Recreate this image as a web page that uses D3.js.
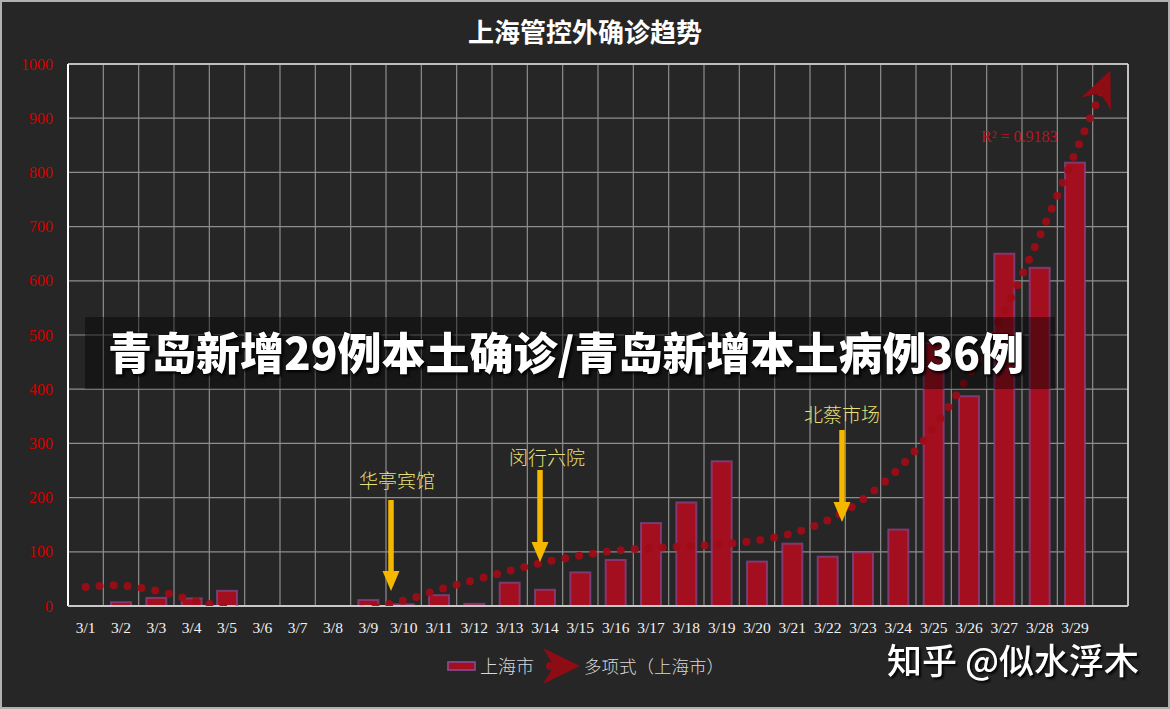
<!DOCTYPE html>
<html>
<head>
<meta charset="utf-8">
<script src="https://cdn.jsdelivr.net/npm/d3@7"></script>
<style>
  body { margin: 0; background: #262626; }
  svg { display: block; }
</style>
</head>
<body>
<div id="chart"></div>
<script>
// Data
const dates = ["3/1", "3/2", "3/3", "3/4", "3/5", "3/6", "3/7", "3/8", "3/9", "3/10",
    "3/11", "3/12", "3/13", "3/14", "3/15", "3/16", "3/17", "3/18", "3/19", "3/20",
    "3/21", "3/22", "3/23", "3/24", "3/25", "3/26", "3/27", "3/28", "3/29"];
const cases = [0, 7, 15, 14, 28, 0, 0, 0, 11, 3,
    20, 4, 43, 30, 62, 85, 153, 191, 267, 82,
    115, 91, 99, 141, 485, 387, 650, 624, 818];
// polynomial trend (one extra step past 3/29)
const trend = [35, 38, 28, 11, -3, -14, -20, -18, -4, 10,
    30, 48, 65, 81, 93, 102, 107, 110, 114, 121,
    134, 158, 197, 253, 329, 426, 544, 682, 835, 988];
const yTicks = [0, 100, 200, 300, 400, 500, 600, 700, 800, 900, 1000];
const notes = [
    { label: "华亭宾馆", tx: 397, ty: 481, from: 500, tip: 591, ax: 391 },
    { label: "闵行六院", tx: 547, ty: 458, from: 470, tip: 562, ax: 540 },
    { label: "北蔡市场", tx: 842, ty: 415, from: 430, tip: 522, ax: 842 }
];

const W = 1170, H = 709;
const pLeft = 68, pRight = 1128, pTop = 64, pBottom = 606;

const svg = d3.select("#chart").append("svg")
    .attr("width", W)
    .attr("height", H);

svg.append("rect")
    .attr("x", 1).attr("y", 1)
    .attr("width", W - 2).attr("height", H - 2)
    .attr("fill", "#262626")
    .attr("stroke", "#b0b0b0")
    .attr("stroke-width", 2);

// Scales: 30 columns, the last one left empty
const cols = dates.concat([""]);
const x = d3.scaleBand().domain(cols.map((d, i) => i)).range([pLeft, pRight]).padding(0);
const y = d3.scaleLinear().domain([0, 1000]).range([pBottom, pTop]);
const cx = i => x(i) + x.bandwidth() / 2;

// Grid
const grid = svg.append("g");
grid.selectAll(".h").data(yTicks).join("line")
    .attr("x1", pLeft).attr("x2", pRight)
    .attr("y1", d => y(d)).attr("y2", d => y(d))
    .attr("stroke", "#8e8e8e").attr("stroke-width", 1.2);
grid.selectAll(".v").data(d3.range(cols.length + 1)).join("line")
    .attr("x1", i => pLeft + i * x.bandwidth()).attr("x2", i => pLeft + i * x.bandwidth())
    .attr("y1", pTop).attr("y2", pBottom)
    .attr("stroke", "#8e8e8e").attr("stroke-width", 1.2);

// Frame
svg.append("line").attr("x1", pLeft).attr("x2", pRight).attr("y1", pTop).attr("y2", pTop)
    .attr("stroke", "#bdbdbd").attr("stroke-width", 2);
svg.append("line").attr("x1", pRight).attr("x2", pRight).attr("y1", pTop).attr("y2", pBottom)
    .attr("stroke", "#e0e0e0").attr("stroke-width", 1.5);
svg.append("line").attr("x1", pLeft).attr("x2", pLeft).attr("y1", pTop).attr("y2", pBottom)
    .attr("stroke", "#ffffff").attr("stroke-width", 2);

// Bars
const barW = 20;
svg.append("g").selectAll("rect").data(cases).join("rect")
    .attr("x", (d, i) => cx(i) - barW / 2)
    .attr("y", d => y(d))
    .attr("width", barW)
    .attr("height", d => pBottom - y(d))
    .attr("fill", "#a30f1f")
    .attr("stroke", "#87468a")
    .attr("stroke-opacity", 0.75)
    .attr("stroke-width", d => d > 0 ? 2 : 0);

svg.append("line").attr("x1", pLeft).attr("x2", pRight).attr("y1", pBottom).attr("y2", pBottom)
    .attr("stroke", "#c8c8c8").attr("stroke-width", 2);

// Trend (dotted, with arrow head)
const defs = svg.append("defs");
defs.append("clipPath").attr("id", "plot")
    .append("rect").attr("x", pLeft).attr("y", pTop - 20)
    .attr("width", pRight - pLeft).attr("height", pBottom - pTop + 20);
defs.append("marker")
    .attr("id", "stealth")
    .attr("markerUnits", "userSpaceOnUse")
    .attr("viewBox", "-40 -18 44 36")
    .attr("refX", 0).attr("refY", 0)
    .attr("markerWidth", 44).attr("markerHeight", 36)
    .attr("orient", "auto")
    .append("path")
    .attr("d", "M0,0 L-36,-16 L-25,0 L-36,16 Z")
    .attr("fill", "#8e0c14");

const trendLine = d3.line()
    .x((d, i) => cx(i))
    .y(d => y(d))
    .curve(d3.curveCatmullRom.alpha(0.5));

svg.append("path")
    .datum(trend)
    .attr("clip-path", "url(#plot)")
    .attr("d", trendLine)
    .attr("fill", "none")
    .attr("stroke", "#9e0c16")
    .attr("stroke-opacity", 0.92)
    .attr("stroke-width", 8)
    .attr("stroke-linecap", "round")
    .attr("stroke-dasharray", "0 14")
    .attr("marker-end", "url(#stealth)");

svg.append("text")
    .attr("x", 981).attr("y", 142)
    .attr("font-family", "Liberation Serif, serif")
    .attr("font-size", 16)
    .attr("fill", "#c0101c")
    .text("R² = 0.9183");

// Axes labels
svg.append("g").selectAll("text").data(yTicks).join("text")
    .attr("x", 53).attr("y", d => y(d) + 5.5)
    .attr("text-anchor", "end")
    .attr("font-family", "Liberation Serif, serif")
    .attr("font-size", 16)
    .attr("fill", "#d40000")
    .text(d => d);

svg.append("g").selectAll("text").data(dates).join("text")
    .attr("x", (d, i) => cx(i)).attr("y", 633)
    .attr("text-anchor", "middle")
    .attr("font-family", "Liberation Serif, serif")
    .attr("font-size", 15.5)
    .attr("fill", "#f2f2f2")
    .text(d => d);

// Annotations
const ann = svg.append("g");
notes.forEach(n => {
    ann.append("text")
        .attr("x", n.tx).attr("y", n.ty + 7)
        .attr("text-anchor", "middle")
        .attr("font-family", "Noto Sans CJK SC")
        .attr("font-weight", 300)
        .attr("font-size", 19)
        .attr("fill", "#e6e07a")
        .text(n.label);
    ann.append("line")
        .attr("x1", n.ax).attr("x2", n.ax)
        .attr("y1", n.from).attr("y2", n.tip - 16)
        .attr("stroke", "#f6b700").attr("stroke-width", 5.5);
    ann.append("path")
        .attr("d", `M${n.ax - 8.5},${n.tip - 20} L${n.ax + 8.5},${n.tip - 20} L${n.ax},${n.tip} Z`)
        .attr("fill", "#f6b700");
});

// Title
svg.append("text")
    .attr("x", 585).attr("y", 42)
    .attr("text-anchor", "middle")
    .attr("font-family", "Noto Sans CJK SC")
    .attr("font-weight", 700)
    .attr("font-size", 26)
    .attr("fill", "#ffffff")
    .text("上海管控外确诊趋势");

// Legend
const lg = svg.append("g");
lg.append("rect")
    .attr("x", 448).attr("y", 662).attr("width", 27).attr("height", 8)
    .attr("fill", "#a30f1f").attr("stroke", "#87468a").attr("stroke-width", 1.8);
lg.append("text")
    .attr("x", 480).attr("y", 673)
    .attr("font-family", "Noto Sans CJK SC").attr("font-weight", 300)
    .attr("font-size", 18).attr("fill", "#d8d8d8")
    .text("上海市");
lg.append("circle").attr("cx", 550).attr("cy", 666).attr("r", 4).attr("fill", "#8e0c14");
lg.append("path")
    .attr("d", "M580,666 L543,648 L554,666 L543,684 Z")
    .attr("fill", "#8e0c14");
lg.append("text")
    .attr("x", 584).attr("y", 673)
    .attr("font-family", "Noto Sans CJK SC").attr("font-weight", 300)
    .attr("font-size", 17.5).attr("fill", "#d8d8d8")
    .text("多项式（上海市）");

// Overlay banner
svg.append("rect")
    .attr("x", 85).attr("y", 317).attr("width", 970).attr("height", 72)
    .attr("fill", "#000").attr("opacity", 0.42);
svg.append("text")
    .attr("x", 108).attr("y", 370)
    .attr("font-family", "Noto Sans CJK SC")
    .attr("font-weight", 900)
    .attr("font-size", 44)
    .attr("fill", "#ffffff")
    .attr("stroke", "#000").attr("stroke-width", 1).attr("paint-order", "stroke")
    .style("filter", "drop-shadow(2px 2px 1px rgba(0,0,0,0.8))")
    .text("青岛新增29例本土确诊/青岛新增本土病例36例");

// Watermark
svg.append("text")
    .attr("x", 887).attr("y", 674)
    .attr("font-family", "Noto Sans CJK SC")
    .attr("font-weight", 500)
    .attr("font-size", 35)
    .attr("fill", "#ffffff")
    .style("filter", "drop-shadow(2px 2px 1px rgba(0,0,0,0.9))")
    .text("知乎 @似水浮木");
</script>
</body>
</html>
